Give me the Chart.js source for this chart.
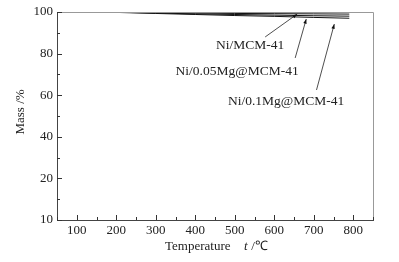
<!DOCTYPE html>
<html>
<head>
<meta charset="utf-8">
<script src="https://cdn.jsdelivr.net/npm/chart.js@4"></script>
<style>
    html, body { margin: 0; padding: 0; background: #fff; }
    canvas { display: block; }
</style>
</head>
<body>
<canvas id="TgChart" width="399" height="262"></canvas>
<script>
// temperature (°C) and mass (%)
const temps = [150, 200, 300, 400, 500, 600, 700, 790];
const niMcm = [100, 99.9, 99.7, 99.5, 99.3, 99.2, 99.1, 99.0];
const ni005Mg = [100, 99.9, 99.5, 99.1, 98.8, 98.5, 98.2, 98.0];
const ni01Mg = [100, 99.8, 99.3, 98.8, 98.3, 97.9, 97.4, 97.0];

const seriesNames = ["Ni/MCM-41", "Ni/0.05Mg@MCM-41", "Ni/0.1Mg@MCM-41"];
// label centre, arrow tail, arrow tip (in data units)
const labelAt = [[539, 84.1], [506, 71.2], [630, 57.2]];
const arrowFrom = [[577, 88], [653, 77.9], [707, 62.5]];
const arrowTo = [[658, 99.0], [681, 96.6], [752, 94.2]];

Chart.defaults.font.family = "'Liberation Serif', 'DejaVu Serif', serif";
Chart.defaults.font.size = 13;
Chart.defaults.color = "#222";

function toPoints(ys) {
    return temps.map((t, i) => ({ x: t, y: ys[i] }));
}

const frameAndNotes = {
    id: 'frameAndNotes',
    afterDraw(chart) {
        const ctx = chart.ctx;
        const xs = chart.scales.x;
        const ys = chart.scales.y;
        const area = chart.chartArea;
        ctx.save();

        // top and right frame
        ctx.strokeStyle = "#999";
        ctx.lineWidth = 1;
        ctx.beginPath();
        ctx.moveTo(area.left, area.top + 0.5);
        ctx.lineTo(area.right + 0.5, area.top + 0.5);
        ctx.lineTo(area.right + 0.5, area.bottom);
        ctx.stroke();

        // inward tick marks
        ctx.strokeStyle = "#333";
        ctx.beginPath();
        xs.ticks.forEach(t => {
            const px = Math.round(xs.getPixelForValue(t.value)) + 0.5;
            const len = t.value % 100 === 0 ? 5 : 3;
            ctx.moveTo(px, area.bottom);
            ctx.lineTo(px, area.bottom - len);
        });
        ys.ticks.forEach(t => {
            const py = Math.round(ys.getPixelForValue(t.value)) + 0.5;
            const len = t.value % 20 === 0 ? 5 : 3;
            ctx.moveTo(area.left, py);
            ctx.lineTo(area.left + len, py);
        });
        ctx.stroke();

        // arrows
        ctx.strokeStyle = "#222";
        ctx.fillStyle = "#111";
        for (let i = 0; i < arrowFrom.length; i++) {
            const x0 = xs.getPixelForValue(arrowFrom[i][0]);
            const y0 = ys.getPixelForValue(arrowFrom[i][1]);
            const x1 = xs.getPixelForValue(arrowTo[i][0]);
            const y1 = ys.getPixelForValue(arrowTo[i][1]);
            const a = Math.atan2(y1 - y0, x1 - x0);
            ctx.lineWidth = 0.8;
            ctx.beginPath();
            ctx.moveTo(x0, y0);
            ctx.lineTo(x1, y1);
            ctx.stroke();
            ctx.beginPath();
            ctx.moveTo(x1, y1);
            ctx.lineTo(x1 - 5 * Math.cos(a - 0.35), y1 - 5 * Math.sin(a - 0.35));
            ctx.lineTo(x1 - 5 * Math.cos(a + 0.35), y1 - 5 * Math.sin(a + 0.35));
            ctx.closePath();
            ctx.fill();
        }

        // series labels
        ctx.fillStyle = "#222";
        ctx.font = "13.5px 'Liberation Serif', serif";
        ctx.textAlign = "center";
        ctx.textBaseline = "middle";
        for (let i = 0; i < seriesNames.length; i++) {
            ctx.fillText(seriesNames[i], xs.getPixelForValue(labelAt[i][0]), ys.getPixelForValue(labelAt[i][1]));
        }

        // axis titles
        ctx.font = "13px 'Liberation Serif', serif";
        ctx.textAlign = "left";
        ctx.fillText("Temperature", 165, 247);
        ctx.font = "italic 13px 'Liberation Serif', serif";
        ctx.fillText("t", 244, 247);
        ctx.font = "13px 'Liberation Serif', serif";
        ctx.fillText(" /℃", 248, 247);

        ctx.translate(21, 112);
        ctx.rotate(-Math.PI / 2);
        ctx.textAlign = "center";
        ctx.fillText("Mass /%", 0, 0);
        ctx.restore();
    }
};

function CreateChart() {
    const ctx = document.getElementById('TgChart');
    const lineStyle = {
        borderColor: "#111",
        borderWidth: 1,
        pointRadius: 0,
        cubicInterpolationMode: 'monotone',
        fill: false,
    };

    new Chart(ctx, {
        type: 'line',
        data: {
            datasets: [
                { label: seriesNames[0], data: toPoints(niMcm), ...lineStyle },
                { label: seriesNames[1], data: toPoints(ni005Mg), ...lineStyle },
                { label: seriesNames[2], data: toPoints(ni01Mg), ...lineStyle },
            ]
        },
        options: {
            responsive: false,
            animation: false,
            layout: { padding: { top: 12, right: 26, left: 0, bottom: 0 } },
            plugins: {
                legend: { display: false },
                tooltip: { enabled: false },
            },
            scales: {
                x: {
                    type: 'linear',
                    min: 50,
                    max: 850,
                    grid: { display: false, drawTicks: false },
                    border: { display: true, color: "#444", width: 1 },
                    ticks: {
                        stepSize: 50,
                        autoSkip: false,
                        maxRotation: 0,
                        padding: 3,
                        callback: v => (v % 100 === 0 ? String(v) : ''),
                    },
                    afterFit: s => { s.height = 42; },
                },
                y: {
                    min: 0,
                    max: 100,
                    grid: { display: false, drawTicks: false },
                    border: { display: true, color: "#444", width: 1 },
                    ticks: {
                        stepSize: 10,
                        autoSkip: false,
                        padding: 4,
                        // the bottom of the axis is labelled "10" in the original
                        callback: v => (v % 20 === 0 ? (v === 0 ? '10' : String(v)) : ''),
                    },
                    afterFit: s => { s.width = 57; },
                }
            }
        },
        plugins: [frameAndNotes]
    });
}

CreateChart();
</script>
</body>
</html>
